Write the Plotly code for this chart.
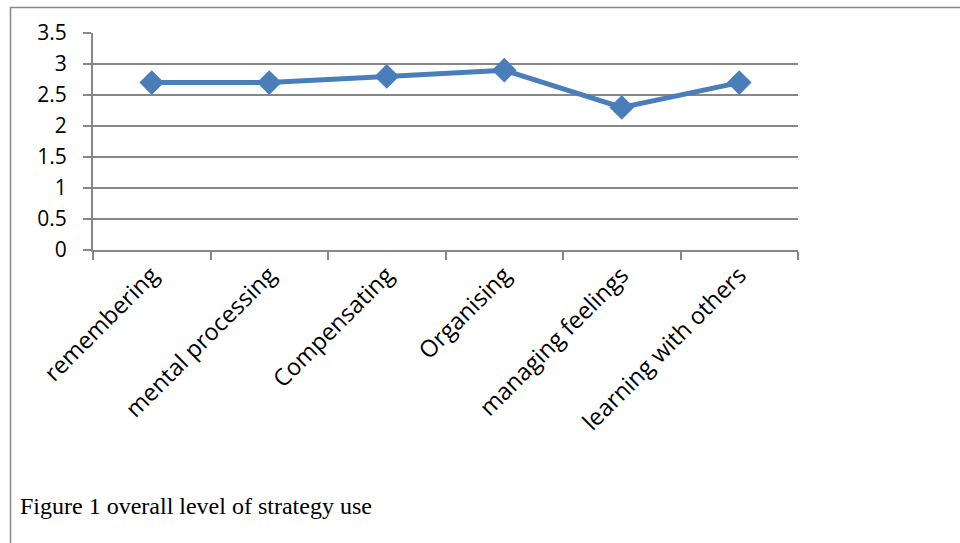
import plotly.graph_objects as go

categories = ["remembering", "mental processing", "Compensating", "Organising",
              "managing feelings", "learning with others"]
values = [2.7, 2.7, 2.8, 2.9, 2.3, 2.7]
y_ticks = [0, 0.5, 1, 1.5, 2, 2.5, 3, 3.5]
y_tick_text = ["0", "0.5", "1", "1.5", "2", "2.5", "3", "3.5"]
caption = "Figure 1 overall level of strategy use"

L, R, T, B = 93, 798, 33, 250
W, H = 960, 543

fig = go.Figure()
fig.add_trace(go.Scatter(
    x=categories, y=values, mode="lines+markers",
    line=dict(color="#4A7EBB", width=5),
    marker=dict(symbol="diamond", size=19, color="#4A7EBB"),
    showlegend=False, cliponaxis=False,
))

grid = "#878787"
fig.update_layout(
    width=W, height=H,
    margin=dict(l=L, r=W - R, t=T, b=H - B),
    paper_bgcolor="white", plot_bgcolor="white",
    font=dict(family="Open Sans", color="black"),
    xaxis=dict(
        type="category", range=[-0.5, 5.5],
        showgrid=False, showline=True, linecolor=grid, linewidth=2,
        ticks="outside", tickson="boundaries", ticklen=8, tickcolor=grid, tickwidth=2,
        tickangle=-45, tickfont=dict(size=23.5, family="Open Sans"),
    ),
    yaxis=dict(
        range=[0, 3.5], tickvals=y_ticks, ticktext=y_tick_text,
        showgrid=True, gridcolor=grid, gridwidth=2,
        showline=True, linecolor=grid, linewidth=2,
        ticks="outside", ticklen=8, tickcolor=grid, tickwidth=2,
        ticklabelstandoff=12,
        tickfont=dict(size=21, family="Open Sans"),
        zeroline=False,
    ),
)

pw, ph = R - L, B - T
def px_x(x): return (x - L) / pw
def px_y(y): return (B - y) / ph

fig.add_shape(type="rect", xref="paper", yref="paper",
              x0=px_x(10.5), x1=px_x(1000), y0=px_y(7.5), y1=px_y(600),
              line=dict(color="#888888", width=1.5), fillcolor="rgba(0,0,0,0)", layer="below")

fig.add_annotation(text=caption, xref="paper", yref="paper",
                   x=px_x(18), y=px_y(506), xanchor="left", yanchor="middle",
                   showarrow=False,
                   font=dict(family="Liberation Serif", size=24, color="black"))

fig.write_html("out.html")
